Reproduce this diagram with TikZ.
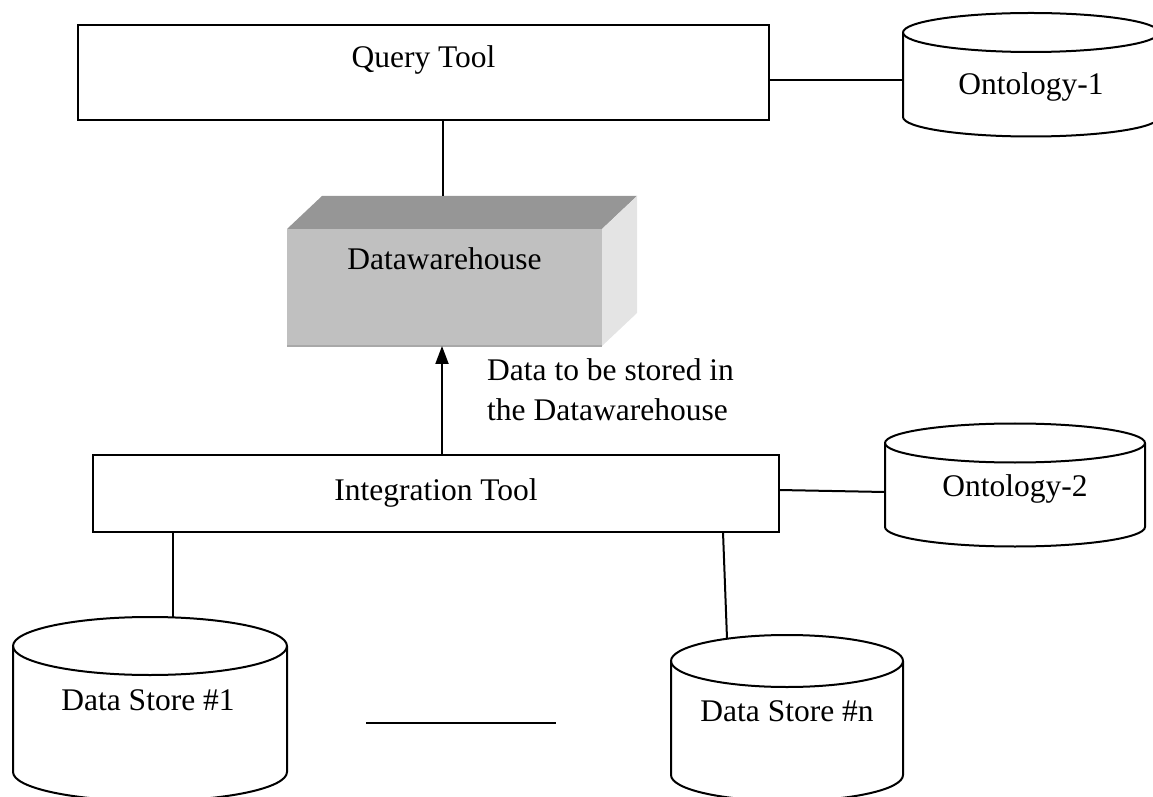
\documentclass[tikz,border=0pt]{standalone}
\usepackage{fontspec}
\setmainfont{Liberation Serif}
\usetikzlibrary{arrows.meta}
\definecolor{dwtopc}{HTML}{969696}
\definecolor{dwfrontc}{HTML}{C0C0C0}
\definecolor{dwsidec}{HTML}{E4E4E4}
\definecolor{dwedgec}{HTML}{A8A8A8}
\tikzset{
  box/.style={draw, line width=2.6pt, inner sep=0pt},
  conn/.style={line width=2pt},
  cylline/.style={line width=2pt, line join=round},
  lbl/.style={inner sep=0pt, anchor=base, font=\fontsize{31.5}{40}\selectfont},
}
% database cylinder: centre x, top-ellipse centre y, x radius, y radius, bottom-ellipse centre y
\newcommand\dbcyl[5]{%
  \draw[cylline] (#1-#3,#2) -- (#1-#3,#5)
     arc[start angle=180, end angle=360, x radius=#3, y radius=#4] -- (#1+#3,#2);
  \draw[cylline] (#1,#2) ellipse[x radius=#3, y radius=#4];}
\begin{document}
\begin{tikzpicture}[x=1pt, y=1pt]
\useasboundingbox (0,0) rectangle (1153,796);

% tool boxes
\node[box, minimum width=691pt, minimum height=95pt] (query) at (423.5,723.5) {};
\node[lbl] (querytext) at (423.5,728) {Query Tool};
\node[box, minimum width=686pt, minimum height=77pt] (integ) at (436,302.5) {};
\node[lbl] (integtext) at (436,296) {Integration Tool};

% data warehouse block
\fill[dwtopc] (287,567) -- (322,600) -- (637,600) -- (602,567) -- cycle;
\fill[dwsidec] (602,567) -- (637,600) -- (637,483) -- (602,450) -- cycle;
\node[fill=dwfrontc, minimum width=315pt, minimum height=117pt, inner sep=0pt] (dw) at (444.5,508.5) {};
\draw[dwedgec, line width=1.5pt] (dw.south west) -- (dw.south east);
\node[lbl] (dwtext) at (444.5,526) {Datawarehouse};
\coordinate (dw-top) at (443,600);
\coordinate (dw-bot) at (442,450);

% databases
\dbcyl{1031}{763.5}{128}{19.5}{679}
\node[lbl] (ont1) at (1031,701) {Ontology-1};
\coordinate (ont1-w) at (903,716);

\dbcyl{1015}{353}{130}{19.5}{269}
\node[lbl] (ont2) at (1015,300) {Ontology-2};
\coordinate (ont2-w) at (885,304);

\dbcyl{150}{150}{137}{29}{24}
\node[lbl] (ds1) at (148,86) {Data Store \#1};
\coordinate (ds1-top) at (173,179);

\dbcyl{787}{135}{116}{26}{21}
\node[lbl] (dsn) at (787,75) {Data Store \#n};
\coordinate (dsn-top) at (727,157.5);

% connectors
\coordinate (integ-e) at (779,306);
\coordinate (integ-s2) at (723,264);
\draw[conn] (query.south -| dw-top) -- (dw-top);
\draw[conn] (query.east |- ont1-w) -- (ont1-w);
\draw[conn, -{Triangle[length=18pt, width=13pt]}] (integ.north -| dw-bot) -- (dw-bot);
\node[inner sep=0pt, anchor=north west, align=left, font=\fontsize{31.5}{40}\selectfont] (flowtext) at (487,437.5) {Data to be stored in\\the Datawarehouse};
\draw[conn] (integ-e) -- (ont2-w);
\draw[conn] (integ.south -| ds1-top) -- (ds1-top);
\draw[conn] (integ-s2) -- (dsn-top);

% ellipsis line between the data stores
\coordinate (gap-l) at (366,73);
\coordinate (gap-r) at (556,73);
\draw[conn] (gap-l) -- (gap-r);
\end{tikzpicture}
\end{document}
